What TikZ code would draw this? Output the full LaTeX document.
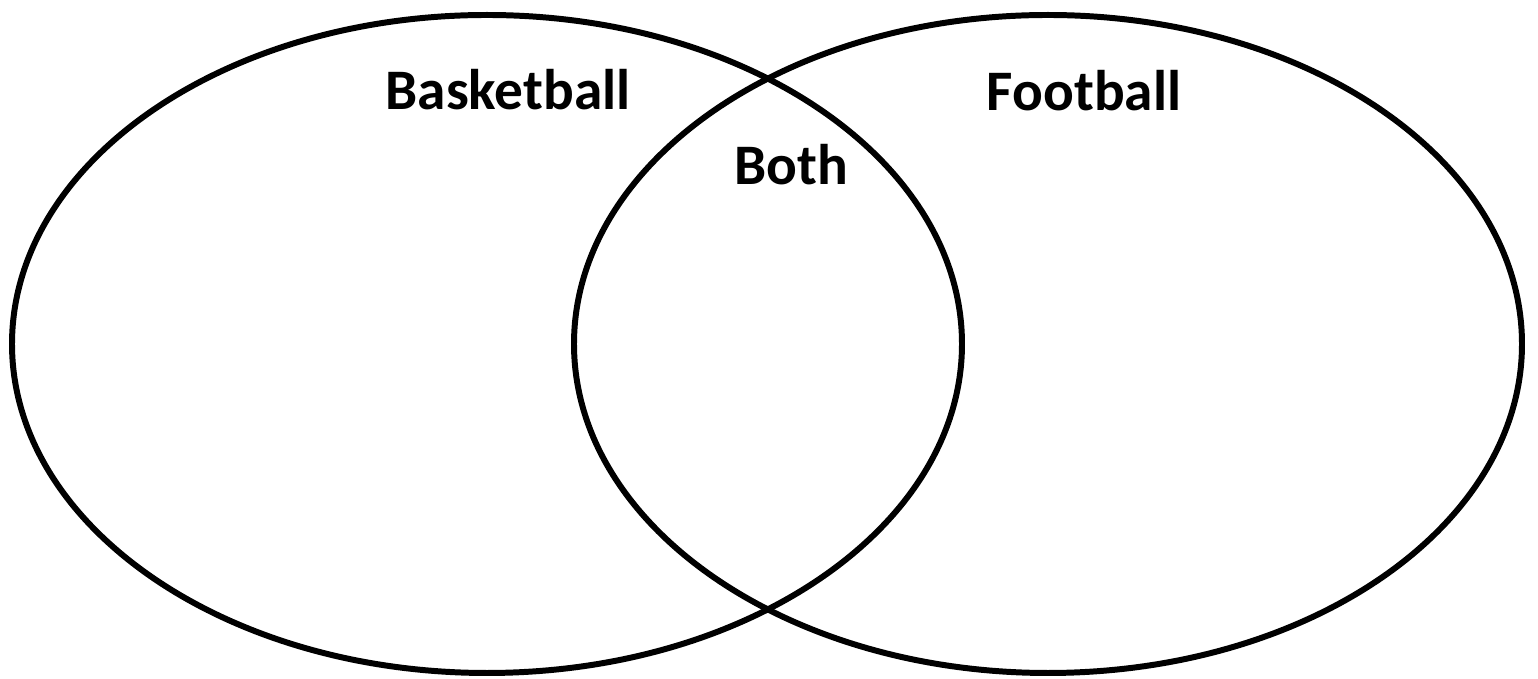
\documentclass[tikz,border=0pt]{standalone}
\usepackage{fontspec}
\setmainfont{Carlito}
\begin{document}
\begin{tikzpicture}[x=0.01cm, y=0.01cm, every node/.style={font=\bfseries\fontsize{16.3}{18}\selectfont, anchor=base}, ring/.style={line width=1.7pt}]
\useasboundingbox (0,0) rectangle (1538,679);
\draw[ring] (487,335) ellipse [x radius=475, y radius=329];
\draw[ring] (1048,335) ellipse [x radius=474, y radius=329];
\node (basket) at (508,569) {Basketball};
\node (foot) at (1084,568) {Football};
\node (both) at (791,494) {Both};
\end{tikzpicture}
\end{document}
